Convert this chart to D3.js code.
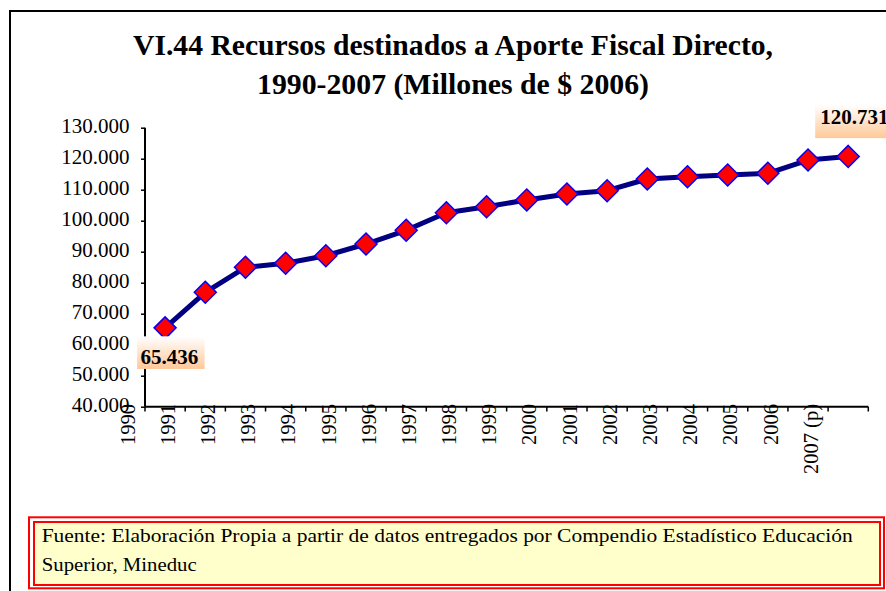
<!DOCTYPE html>
<html><head><meta charset="utf-8">
<script src="https://cdn.jsdelivr.net/npm/d3@7"></script>
<style>body{margin:0;background:#fff}svg{display:block}svg text{font-family:"Liberation Serif","Times New Roman",Times,serif}</style>
</head><body>
<svg id="c" width="886" height="591"></svg>
<script>
const titleLines = ["VI.44 Recursos destinados a Aporte Fiscal Directo,", "1990-2007 (Millones de $ 2006)"];
const years = ["1990","1991","1992","1993","1994","1995","1996","1997","1998","1999","2000","2001","2002","2003","2004","2005","2006","2007 (p)"];
const values = [65436, 76900, 84970, 86260, 88710, 92480, 96900, 102580, 104520, 106680, 108610, 109680, 113450, 114190, 114740, 115290, 119580, 120731];
const yTicks = [40000, 50000, 60000, 70000, 80000, 90000, 100000, 110000, 120000, 130000];
const sourceLines = ["Fuente: Elaboración Propia a partir de datos entregados por Compendio Estadístico Educación", "Superior, Mineduc"];
const labelledIdx = [0, 17];

const svg = d3.select("#c");
const fmt = v => d3.format(",")(v).replace(/,/g, ".");

// outer frame
svg.append("rect").attr("x",10).attr("y",11).attr("width",1000).attr("height",1000)
  .attr("fill","#fff").attr("stroke","#000").attr("stroke-width",2);

// title
const tl = [{y:55, len:640}, {y:94, len:392}];
titleLines.forEach((t,i)=>{
  svg.append("text").attr("x",453).attr("y",tl[i].y).attr("text-anchor","middle")
    .attr("font-weight","bold").attr("font-size",30)
    .attr("textLength",tl[i].len).attr("lengthAdjust","spacingAndGlyphs")
    .text(t);
});

const x = d3.scaleBand().domain(years).range([145, 868.3]).padding(0);
const y = d3.scaleLinear().domain([40000,130000]).range([406.7,127.7]);
const bw = x.bandwidth();
const cx = d => x(d) + bw/2;

// y axis
const yAxis = d3.axisLeft(y).tickValues(yTicks).tickSize(4).tickFormat(fmt);
const gy = svg.append("g").attr("transform","translate(145,0)").call(yAxis);
gy.attr("font-family",null);
gy.select(".domain").attr("stroke","#000").attr("stroke-width",2).attr("d","M0,127.7V406.7");
gy.selectAll(".tick line").attr("stroke","#000").attr("stroke-width",1.5);
gy.selectAll(".tick text").attr("font-size",21).attr("fill","#000")
  .attr("x",-15.5).attr("dy",4.5);

// x axis
svg.append("line").attr("x1",145).attr("x2",868.3).attr("y1",406.7).attr("y2",406.7)
  .attr("stroke","#000").attr("stroke-width",2);
const edges = years.map(d=>x(d)).concat([x.range()[1]]);
svg.selectAll("line.xt").data(edges).join("line").attr("class","xt")
  .attr("x1",d=>d).attr("x2",d=>d).attr("y1",406.7).attr("y2",411.5)
  .attr("stroke","#000").attr("stroke-width",1.5);
svg.selectAll("text.xl").data(years).join("text").attr("class","xl")
  .attr("transform",d=>`translate(${x(d)-bw/2+2.5},404) rotate(-90)`)
  .attr("text-anchor","end").attr("dy","0.35em")
  .attr("font-size",20.5).attr("fill","#000")
  .text(d=>d);

// line
const pts = years.map((d,i)=>[cx(d), y(values[i])]);
svg.append("path").attr("d", d3.line()(pts)).attr("fill","none")
  .attr("stroke","#000080").attr("stroke-width",5).attr("stroke-linejoin","round");
const s = 11;
svg.selectAll("path.mk").data(pts).join("path").attr("class","mk")
  .attr("d",p=>`M${p[0]},${p[1]-s}L${p[0]+s},${p[1]}L${p[0]},${p[1]+s}L${p[0]-s},${p[1]}Z`)
  .attr("fill","#ff0000").attr("stroke","#0000ff").attr("stroke-width",1.5);

// data labels
const defs = svg.append("defs");
const gr = defs.append("linearGradient").attr("id","lg").attr("x1",0).attr("x2",0).attr("y1",0).attr("y2",1);
gr.append("stop").attr("offset","0%").attr("stop-color","#ffffff");
gr.append("stop").attr("offset","100%").attr("stop-color","#ffc898");
const boxes = [{dx:-28, dy:8.5, w:67.5, h:32.6, tx:3.3, ty:27.8},
               {dx:-33, dy:-51.7, w:90, h:33.4, tx:5, ty:19.4}];
labelledIdx.forEach((i,k)=>{
  const p = pts[i], b = boxes[k];
  svg.append("rect").attr("x",p[0]+b.dx).attr("y",p[1]+b.dy).attr("width",b.w).attr("height",b.h)
    .attr("fill","url(#lg)");
  svg.append("text").attr("x",p[0]+b.dx+b.tx).attr("y",p[1]+b.dy+b.ty)
    .attr("font-weight","bold").attr("font-size",21).attr("fill","#000")
    .text(fmt(values[i]));
});

// source box
svg.append("rect").attr("x",29).attr("y",517.3).attr("width",855).attr("height",71)
  .attr("fill","#fff").attr("stroke","#ff0000").attr("stroke-width",2);
svg.append("rect").attr("x",34).attr("y",522).attr("width",846).attr("height",63)
  .attr("fill","#ffffcc").attr("stroke","#ff0000").attr("stroke-width",2);
const sl = [{y:542, len:811}, {y:570.5, len:155}];
sourceLines.forEach((t,i)=>{
  svg.append("text").attr("x",41.7).attr("y",sl[i].y)
    .attr("font-size",18).attr("fill","#000")
    .attr("textLength",sl[i].len).attr("lengthAdjust","spacingAndGlyphs").text(t);
});
</script>
</body></html>
